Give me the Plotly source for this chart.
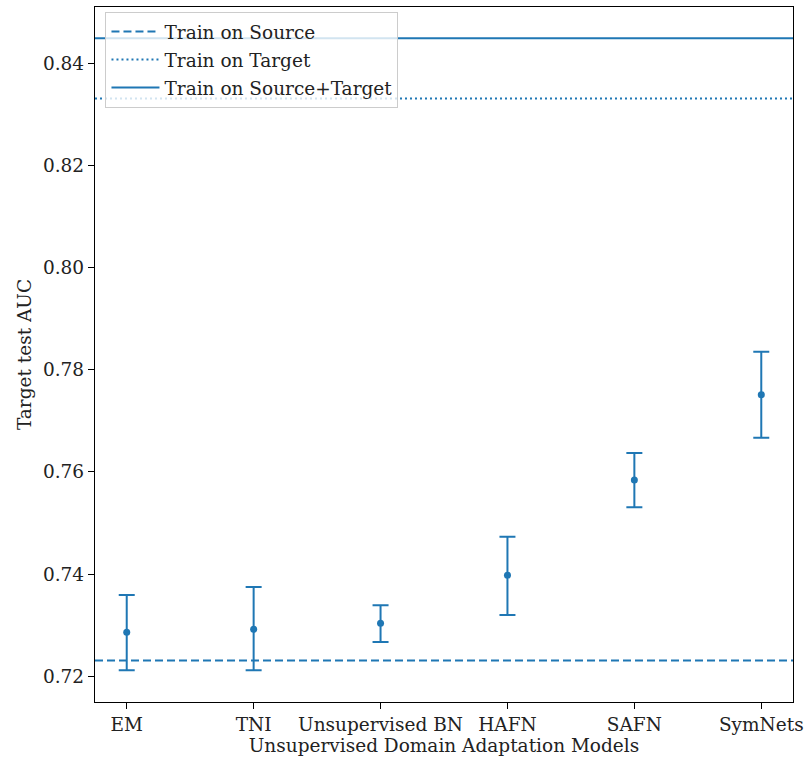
import plotly.graph_objects as go

models = ["EM", "TNI", "Unsupervised BN", "HAFN", "SAFN", "SymNets"]
auc_mean = [0.7286, 0.7292, 0.7304, 0.7398, 0.7584, 0.7751]
auc_upper = [0.7359, 0.7375, 0.7339, 0.7473, 0.7637, 0.7835]
auc_lower = [0.7212, 0.7212, 0.7267, 0.7320, 0.7531, 0.7667]

baseline_names = ["Train on Source", "Train on Target", "Train on Source+Target"]
baseline_values = [0.7231, 0.8331, 0.8449]
baseline_dash = ["8px,4px", "2px,3px", "solid"]

yticks = [0.72, 0.74, 0.76, 0.78, 0.80, 0.82, 0.84]

color = "#1f77b4"
font_family = "DejaVu Serif"
fsize = 18.5
txt = dict(family=font_family, size=fsize, color="#222")

xs = list(range(len(models)))
err_plus = [u - m for u, m in zip(auc_upper, auc_mean)]
err_minus = [m - l for m, l in zip(auc_mean, auc_lower)]

fig = go.Figure()

xr = [-0.25, len(models) - 0.75]
for i, (name, val, dash) in enumerate(zip(baseline_names, baseline_values, baseline_dash)):
    fig.add_trace(go.Scatter(
        x=xr, y=[val, val], mode="lines", name=name, legendgroup=f"g{i}",
        line=dict(color=color, width=2, dash=dash),
        showlegend=True,
    ))

fig.add_trace(go.Scatter(
    x=xs, y=auc_mean, mode="markers", showlegend=False,
    marker=dict(color=color, size=7),
    error_y=dict(type="data", symmetric=False, array=err_plus, arrayminus=err_minus,
                 color=color, thickness=2, width=8),
))

fig.update_layout(
    width=806, height=761,
    margin=dict(l=95, r=13, t=7, b=59),
    paper_bgcolor="white", plot_bgcolor="white",
    font=txt,
    legend=dict(
        x=0.015, y=0.993, xanchor="left", yanchor="top",
        bgcolor="rgba(255,255,255,0.8)", bordercolor="#cccccc", borderwidth=1,
        font=txt, tracegroupgap=1, itemwidth=48,
    ),
    xaxis=dict(
        range=xr, tickmode="array", tickvals=xs, ticktext=models,
        tickfont=txt, automargin=False,
        showgrid=False, zeroline=False,
        showline=True, linecolor="black", linewidth=1.3, mirror=True,
        ticks="outside", ticklen=6, tickcolor="black",
        title=dict(text="Unsupervised Domain Adaptation Models", font=txt, standoff=2),
    ),
    yaxis=dict(
        range=[0.71497, 0.8510], tickmode="array", tickvals=yticks,
        ticktext=[f"{v:.2f}" for v in yticks],
        tickfont=txt, automargin=False,
        showgrid=False, zeroline=False,
        showline=True, linecolor="black", linewidth=1.3, mirror=True,
        ticks="outside", ticklen=6, tickcolor="black",
        title=dict(text="Target test AUC", font=txt, standoff=6),
    ),
)

fig.write_html("out.html", config={"displayModeBar": False},
               post_script="document.body.style.margin='0';")
